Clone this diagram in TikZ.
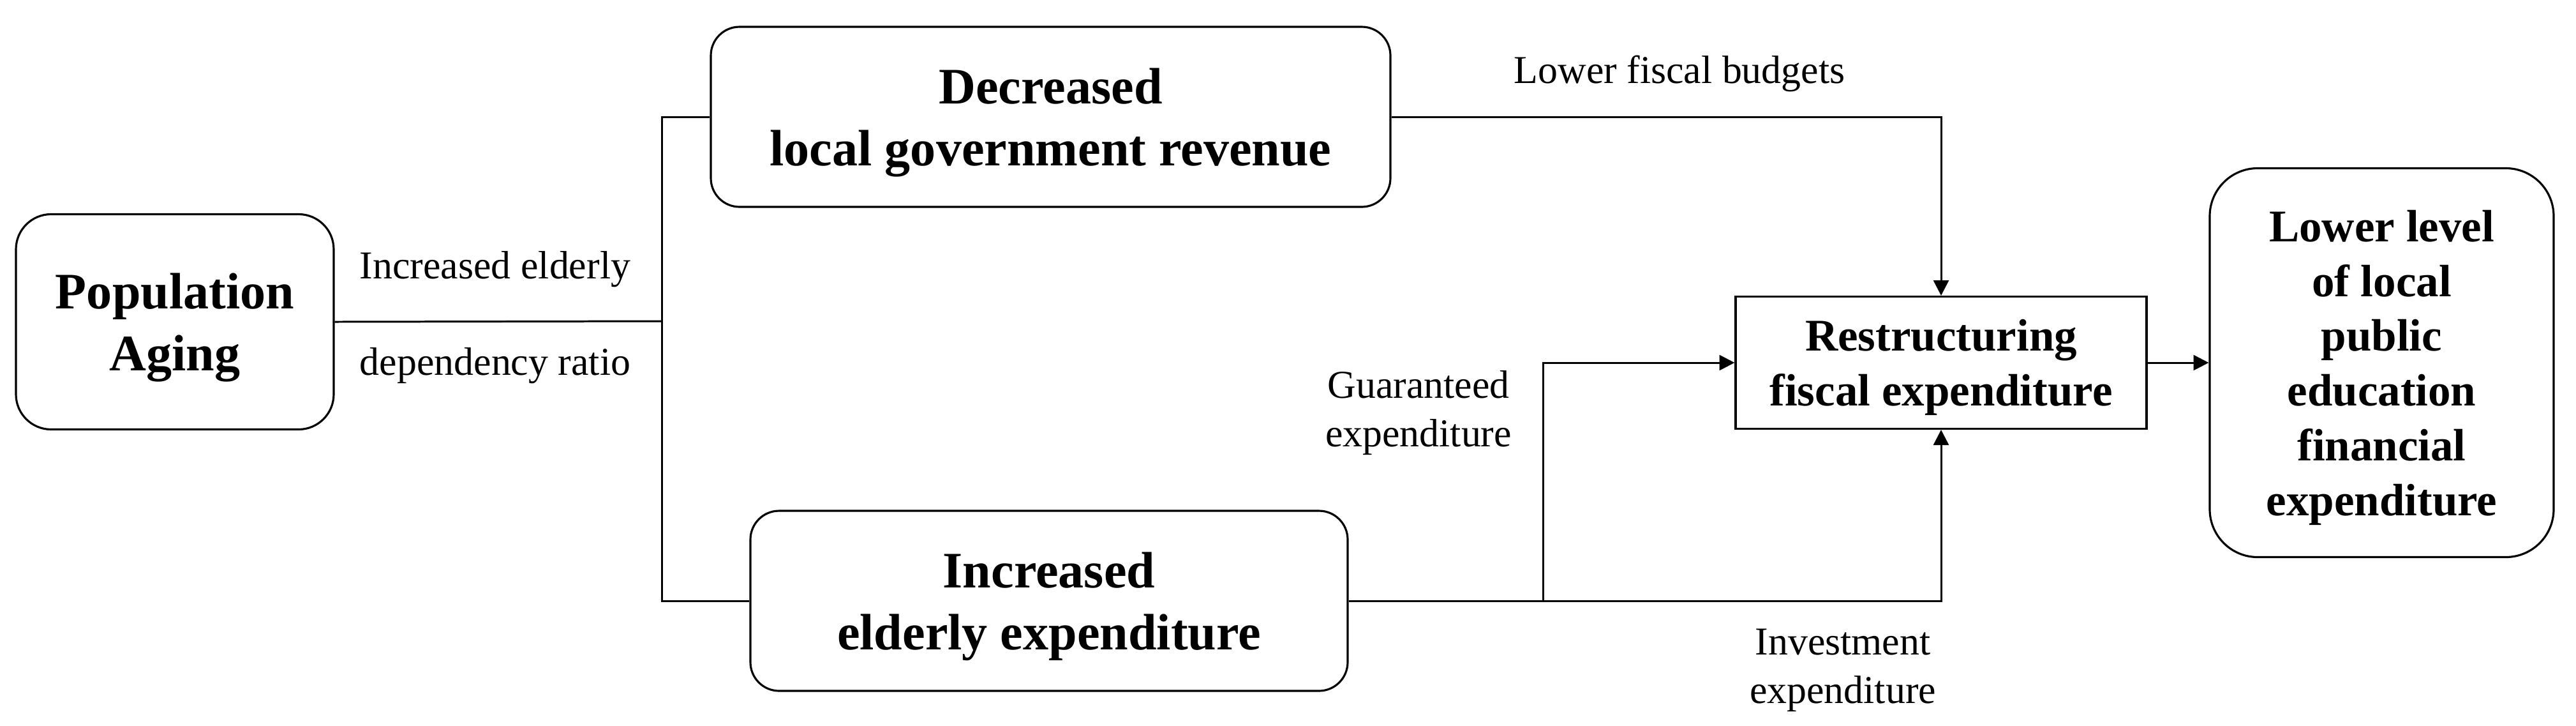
\documentclass[tikz,border=0pt]{standalone}
\usepackage{fontspec}
\setmainfont{Liberation Serif}
\usetikzlibrary{arrows.meta}
\begin{document}
\begin{tikzpicture}[
        box/.style={draw, line width=0.9pt, rounded corners=#1, align=center, inner sep=0pt,
            text depth=0pt, font=\bfseries\fontsize{22.8}{27.6}\selectfont},
        box/.default=0.45cm,
        smallbox/.style={box=#1, font=\bfseries\fontsize{20.2}{24.6}\selectfont},
        lbl/.style={inner sep=0pt, align=center, font=\fontsize{17.6}{21.6}\selectfont},
        link/.style={line width=0.85pt},
        flow/.style={link, -{Triangle[length=6.8pt,width=6.8pt]}}
    ]
    \useasboundingbox (0, 0) rectangle (40.37, -11.36);
    % boxes
    \node[box=0.55cm, minimum width=4.98cm, minimum height=3.37cm]
        (aging) at (2.74, -5.04) {Population\\Aging};
    \node[box, minimum width=10.65cm, minimum height=2.82cm]
        (revenue) at (16.465, -1.83) {Decreased\\local government revenue};
    \node[box, minimum width=9.36cm, minimum height=2.82cm]
        (elderly) at (16.44, -9.41) {Increased\\elderly expenditure};
    \node[smallbox=0pt, minimum width=6.44cm, minimum height=2.07cm]
        (restruct) at (30.42, -5.68) {Restructuring\\fiscal expenditure};
    \node[smallbox=0.75cm, minimum width=5.39cm, minimum height=6.09cm,
        font=\bfseries\fontsize{20.2}{24.4}\selectfont]
        (eduspend) at (37.325, -5.68)
        {Lower level\\of local\\public\\education\\financial\\expenditure};
    % connectors
    \coordinate (split) at (10.37, -5.03);
    \coordinate (guarantee) at (24.18, -9.41);
    \draw[link] (aging.east) -- (split);
    \draw[link] (revenue.west) -| (split) |- (elderly.west);
    \draw[flow] (revenue.east) -| (restruct.north);
    \draw[flow] (elderly.east) -| (restruct.south);
    \draw[flow] (guarantee) |- (restruct.west);
    \draw[flow] (restruct.east) -- (eduspend.west);
    % labels
    \node[lbl, anchor=base] (ratiotop) at (7.76, -4.36) {Increased elderly};
    \node[lbl, anchor=base] (ratiobot) at (7.76, -5.87) {dependency ratio};
    \node[lbl, anchor=base] (budgets) at (26.32, -1.30) {Lower fiscal budgets};
    \node[lbl, anchor=base] (guarlbl) at (22.23, -6.99) {Guaranteed\\expenditure};
    \node[lbl, anchor=base] (invlbl) at (28.88, -11.01) {Investment\\expenditure};
\end{tikzpicture}
\end{document}
